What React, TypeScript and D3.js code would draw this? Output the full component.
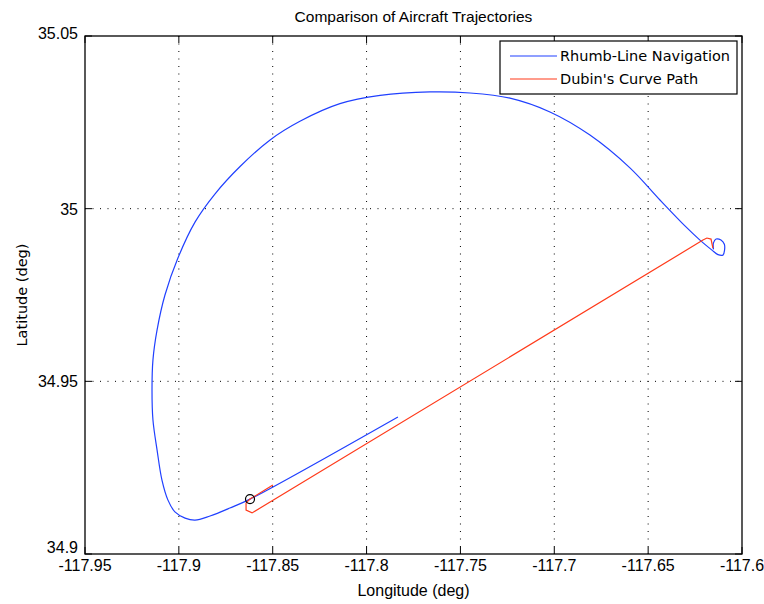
import React from "react";
import * as d3 from "d3";

const W = 764;
const H = 604;
const M = { left: 85, right: 742, top: 36, bottom: 554 };

const xTicks = [-117.95, -117.9, -117.85, -117.8, -117.75, -117.7, -117.65, -117.6];
const yTicks = [34.9, 34.95, 35, 35.05];
const xTickLabels = ["-117.95", "-117.9", "-117.85", "-117.8", "-117.75", "-117.7", "-117.65", "-117.6"];
const yTickLabels = ["34.9", "34.95", "35", "35.05"];

// Rhumb-line navigation path (lon, lat)
const rhumbLon = [
  -117.7833, -117.8621, -117.8728, -117.8834, -117.8914, -117.8967, -117.9021, -117.9058,
  -117.909, -117.9116, -117.9138, -117.9143, -117.9138, -117.9116, -117.9074, -117.9005,
  -117.8914, -117.8807, -117.8674, -117.8514, -117.8355, -117.8142, -117.7928, -117.7662,
  -117.7449, -117.7236, -117.7023, -117.681, -117.6597, -117.6437, -117.6304, -117.6224,
  -117.616, -117.6128, -117.6101, -117.6093, -117.6094, -117.6112, -117.6138, -117.6152,
  -117.6152,
];
const rhumbLat = [
  34.9397, 34.9159, 34.9133, 34.911, 34.9098, 34.9104, 34.9122, 34.9156,
  34.9214, 34.9301, 34.9388, 34.9475, 34.9562, 34.9649, 34.975, 34.9857,
  34.9961, 35.0043, 35.0122, 35.0199, 35.0253, 35.0304, 35.0328, 35.0338,
  35.0335, 35.032, 35.028, 35.0213, 35.0118, 35.0025, 34.995, 34.9909,
  34.988, 34.9867, 34.9866, 34.988, 34.9897, 34.9909, 34.9912, 34.9901,
  34.9882,
];

// Dubin's curve path (lon, lat)
const dubinLon = [-117.8499, -117.8621, -117.8642, -117.8642, -117.861, -117.6208, -117.6187, -117.6165, -117.6155];
const dubinLat = [34.92, 34.9159, 34.9148, 34.9127, 34.9119, 34.9909, 34.9915, 34.9912, 34.9886];

const startPoint = { lon: -117.8621, lat: 34.9159 };

const seriesNames = ["Rhumb-Line Navigation", "Dubin's Curve Path"];
const seriesColors = ["#2040ff", "#ff3a1a"];

export default function App() {
  const x = d3.scaleLinear().domain([-117.95, -117.6]).range([M.left, M.right]);
  const y = d3.scaleLinear().domain([34.9, 35.05]).range([M.bottom, M.top]);

  const smoothLine = d3
    .line<[number, number]>()
    .x((d) => x(d[0]))
    .y((d) => y(d[1]))
    .curve(d3.curveCatmullRom.alpha(0.5));
  const line = d3
    .line<[number, number]>()
    .x((d) => x(d[0]))
    .y((d) => y(d[1]));

  const rhumb = rhumbLon.map((v, i) => [v, rhumbLat[i]] as [number, number]);
  const dubin = dubinLon.map((v, i) => [v, dubinLat[i]] as [number, number]);

  const tickFont = "'Liberation Sans', Arial, sans-serif";
  const tickLen = 7;
  const grid = "1,6.5";

  return (
    <svg
      width={W}
      height={H}
      style={{ position: "absolute", left: 0, top: 0, background: "#fff" }}
    >
      <rect x={0} y={0} width={W} height={H} fill="#fff" />
      {/* grid */}
      {xTicks.slice(1, -1).map((t) => (
        <line key={"gx" + t} x1={x(t)} x2={x(t)} y1={M.top} y2={M.bottom} stroke="#000" strokeWidth={1} strokeDasharray={grid} />
      ))}
      {yTicks.slice(1, -1).map((t) => (
        <line key={"gy" + t} x1={M.left} x2={M.right} y1={y(t)} y2={y(t)} stroke="#000" strokeWidth={1} strokeDasharray={grid} />
      ))}
      {/* ticks */}
      {xTicks.map((t) => (
        <g key={"tx" + t}>
          <line x1={x(t)} x2={x(t)} y1={M.bottom} y2={M.bottom - tickLen} stroke="#000" />
          <line x1={x(t)} x2={x(t)} y1={M.top} y2={M.top + tickLen} stroke="#000" />
        </g>
      ))}
      {yTicks.map((t) => (
        <g key={"ty" + t}>
          <line x1={M.left} x2={M.left + tickLen} y1={y(t)} y2={y(t)} stroke="#000" />
          <line x1={M.right} x2={M.right - tickLen} y1={y(t)} y2={y(t)} stroke="#000" />
        </g>
      ))}
      {/* data */}
      <path d={smoothLine(rhumb) || ""} fill="none" stroke={seriesColors[0]} strokeWidth={1.2} />
      <path d={line(dubin) || ""} fill="none" stroke={seriesColors[1]} strokeWidth={1.2} />
      <circle cx={x(startPoint.lon)} cy={y(startPoint.lat)} r={4.5} fill="none" stroke="#000" strokeWidth={1.2} />
      {/* axes box */}
      <rect x={M.left} y={M.top} width={M.right - M.left} height={M.bottom - M.top} fill="none" stroke="#000" strokeWidth={1.3} />
      {/* tick labels */}
      {xTicks.map((t, i) => (
        <text key={"lx" + t} x={x(t)} y={571} textAnchor="middle" fontFamily={tickFont} fontSize={16}>
          {xTickLabels[i]}
        </text>
      ))}
      {yTicks.map((t, i) => {
        let yy = y(t) + 6;
        if (i === 0) yy = y(t) - 1;
        if (i === yTicks.length - 1) yy = y(t) + 3;
        return (
          <text key={"ly" + t} x={78} y={yy} textAnchor="end" fontFamily={tickFont} fontSize={16}>
            {yTickLabels[i]}
          </text>
        );
      })}
      {/* title & axis labels */}
      <text x={(M.left + M.right) / 2} y={22} textAnchor="middle" fontFamily={tickFont} fontSize={15.5}>
        Comparison of Aircraft Trajectories
      </text>
      <text x={(M.left + M.right) / 2} y={596} textAnchor="middle" fontFamily={tickFont} fontSize={16}>
        Longitude (deg)
      </text>
      <text
        transform={`translate(27, ${(M.top + M.bottom) / 2}) rotate(-90)`}
        textAnchor="middle"
        fontFamily="'DejaVu Sans', sans-serif"
        fontSize={14.5}
      >
        Latitude (deg)
      </text>
      {/* legend */}
      <g>
        <rect x={500} y={41} width={237} height={53} fill="#fff" stroke="#000" strokeWidth={1.2} />
        {seriesNames.map((n, i) => (
          <g key={n}>
            <line x1={510} x2={557} y1={56 + i * 23} y2={56 + i * 23} stroke={seriesColors[i]} strokeWidth={1.2} />
            <text x={560} y={61 + i * 23} fontFamily="'DejaVu Sans', sans-serif" fontSize={14.5}>
              {n}
            </text>
          </g>
        ))}
      </g>
    </svg>
  );
}
